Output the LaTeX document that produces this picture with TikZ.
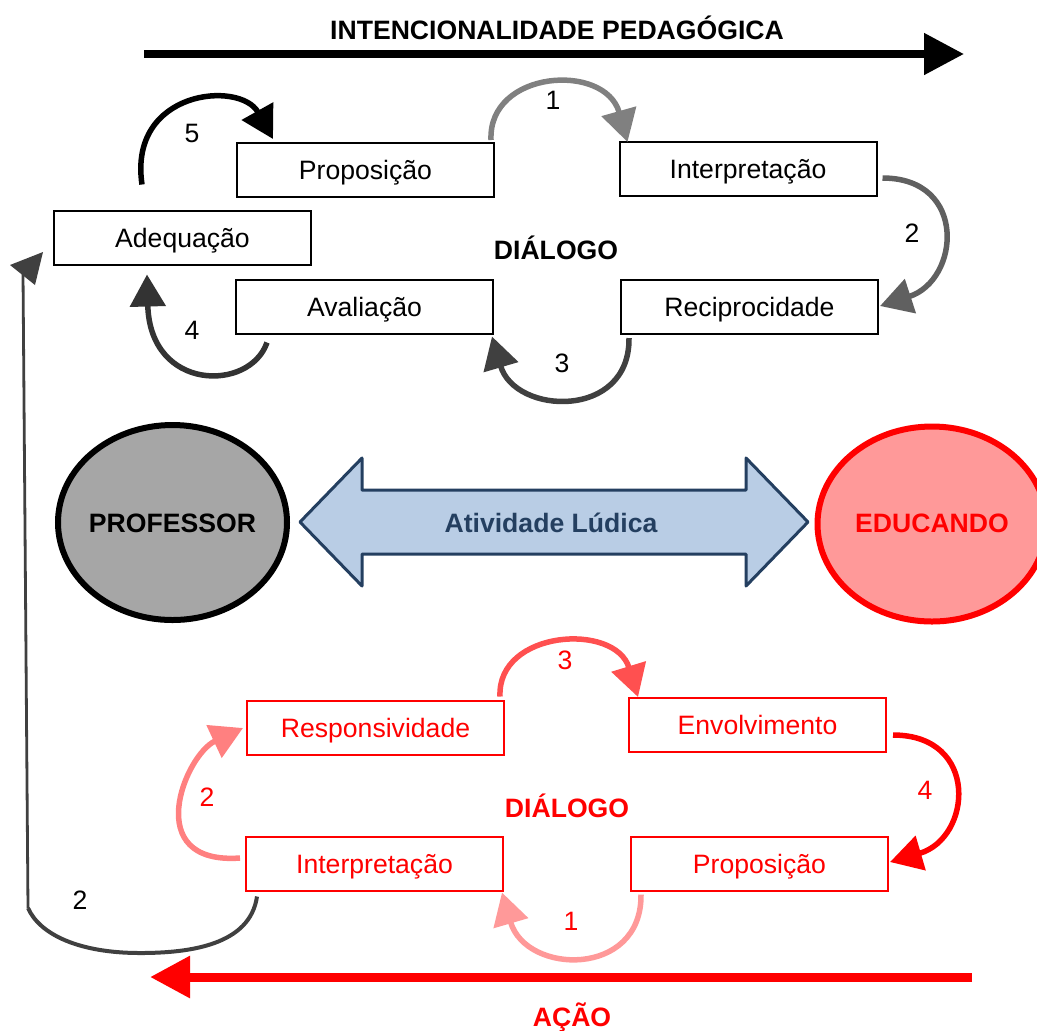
\documentclass[tikz,border=0pt]{standalone}
\usepackage{fontspec}
\setmainfont{Liberation Sans}
\usetikzlibrary{arrows.meta,shapes.geometric}
\definecolor{gA}{HTML}{808080}
\definecolor{gB}{HTML}{606060}
\definecolor{gC}{HTML}{404040}
\definecolor{gD}{HTML}{333333}
\definecolor{gR}{HTML}{404040}
\definecolor{rA}{HTML}{FF5050}
\definecolor{rB}{HTML}{FF0000}
\definecolor{rC}{HTML}{FF9999}
\definecolor{rD}{HTML}{FF8080}
\definecolor{profill}{HTML}{A6A6A6}
\definecolor{edufill}{HTML}{FF9999}
\definecolor{arrfill}{HTML}{B9CDE5}
\definecolor{arrline}{HTML}{243F60}
\begin{document}
\begin{tikzpicture}[x=0.5pt,y=-0.5pt,
  font={\fontsize{13.3}{16}\selectfont},
  box/.style={draw, line width=1pt, minimum width=128.5pt, minimum height=27pt, inner sep=0pt, outer sep=0pt, text height=9.5pt, text depth=0pt},
  rbox/.style={box, draw=rB, text=rB},
  arcarrow/.style={line width=2.75pt, -{Triangle[length=16pt,width=17.5pt]}},
  lab/.style={inner sep=0pt},
  bold/.style={inner sep=0pt, font={\fontsize{13.3}{16}\selectfont\bfseries}}]
\useasboundingbox (0,0) rectangle (1037,1030);

% title and top arrow
\node[bold] (title) at (557,28) {INTENCIONALIDADE PEDAGÓGICA};
\coordinate (tl) at (144,54);
\coordinate (tr) at (964,54);
\draw[line width=4pt, -{Triangle[length=20pt,width=20pt]}] (tl) -- (tr);

% top boxes
\node[box] (prop) at (365.5,170) {Proposição};
\node[box] (interp) at (748,169) {Interpretação};
\node[box] (adeq) at (182.5,237.5) {Adequação};
\node[box] (aval) at (364.5,306.5) {Avaliação};
\node[box] (recip) at (749.5,307) {Reciprocidade};
\node[bold] (dial) at (556,248) {DIÁLOGO};

% top cycle arrows
\draw[arcarrow, gA] ([shift={(-3,-3)}]prop.north east) .. controls (488,70) and (605,62) .. ([shift={(8,0)}]interp.north west);
\draw[arcarrow, gB] ([shift={(6,9)}]interp.east) .. controls (968,178) and (960,280) .. ([shift={(2,-1)}]recip.east);
\draw[arcarrow, gC] ([shift={(8,4)}]recip.south west) .. controls (630,420) and (515,415) .. ([shift={(-1,3)}]aval.south east);
\draw[arcarrow, gD] ([shift={(31,9)}]aval.south west) .. controls (250,392) and (150,392) .. ([shift={(-35.5,10)}]adeq.south);
\draw[arcarrow, black] ([shift={(-40.5,-26)}]adeq.north) .. controls (128,90) and (240,80) .. ([shift={(36,-4)}]prop.north west);
\node[lab] (t1) at (553,100) {1};
\node[lab] (t2) at (912,233) {2};
\node[lab] (t3) at (562,363) {3};
\node[lab] (t4) at (192,330) {4};
\node[lab] (t5) at (192,133) {5};

% middle
\draw[line width=3pt, fill=profill] (172.5,522.5) ellipse [x radius=57.25pt, y radius=48.75pt];
\node[bold] (prof) at (172.5,523) {PROFESSOR};
\draw[line width=3pt, draw=rB, fill=edufill] (932,524) ellipse [x radius=57.25pt, y radius=48.75pt];
\node[bold, text=rB] (edu) at (932,523) {EDUCANDO};
\draw[line width=1.5pt, draw=arrline, fill=arrfill, line join=round]
  (300,522) -- (362,458) -- (362,490) -- (746,490) -- (746,458) -- (808,522)
  -- (746,586) -- (746,554) -- (362,554) -- (362,586) -- cycle;
\node[bold, text=arrline] (ativ) at (551,523) {Atividade Lúdica};

% bottom boxes
\node[rbox] (resp) at (375.5,727.5) {Responsividade};
\node[rbox] (env) at (757.5,725) {Envolvimento};
\node[rbox] (interpr) at (374.5,863.5) {Interpretação};
\node[rbox] (propr) at (759.5,863.5) {Proposição};
\node[bold, text=rB] (dialr) at (567,806) {DIÁLOGO};

% bottom cycle arrows
\draw[arcarrow, rA] ([shift={(-4,-4)}]resp.north east) .. controls (497,630) and (615,622) .. ([shift={(9,-1)}]env.north west);
\draw[arcarrow, rB] ([shift={(7,10)}]env.east) .. controls (980,735) and (972,838) .. ([shift={(2,-1.5)}]propr.east);
\draw[arcarrow, rC] ([shift={(10,4)}]propr.south west) .. controls (642,978) and (526,975) .. ([shift={(-1,2)}]interpr.south east);
\draw[arcarrow, rD] ([shift={(-6,-5.5)}]interpr.west) .. controls (140,865) and (185,755) .. ([shift={(-4,0.5)}]resp.west);
\node[lab, text=rB] (b3) at (565,660) {3};
\node[lab, text=rB] (b4) at (925,790) {4};
\node[lab, text=rB] (b1) at (571,921) {1};
\node[lab, text=rB] (b2) at (207,797) {2};

% return line to Adequacao
\coordinate (corner) at (28,908);
\coordinate (rtop) at (23,273);
\draw[line width=2pt, gR] ([shift={(11,6)}]interpr.south west) .. controls (250,945) and (190,953) .. (140,953) .. controls (80,953) and (40,935) .. (corner);
\draw[line width=1.4pt, gR] (corner) -- (rtop);
\fill[gR] (10,265) -- (43,252) -- (35,285) -- cycle;
\node[lab] (r2) at (80,900) {2};

% bottom arrow
\coordinate (br) at (972,977);
\coordinate (bl) at (150,977);
\draw[line width=4.5pt, rB, -{Triangle[length=20pt,width=20pt]}] (br) -- (bl);
\node[bold, text=rB] (acao) at (572,1017) {AÇÃO};
\end{tikzpicture}
\end{document}
